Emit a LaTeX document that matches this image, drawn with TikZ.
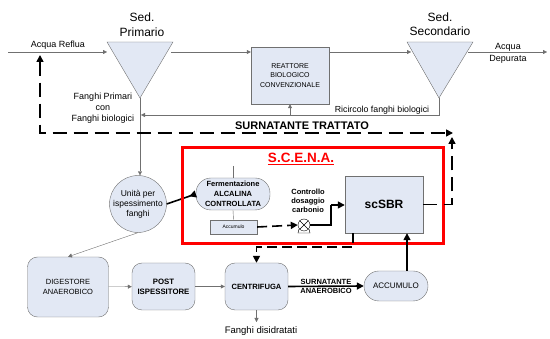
\documentclass[tikz,border=0pt]{standalone}
\usepackage{fontspec}
\setmainfont{Liberation Sans}
\usetikzlibrary{arrows.meta}
\usetikzlibrary{positioning}
\definecolor{boxfill}{RGB}{226,232,244}
\definecolor{ln}{RGB}{112,112,112}
\newcommand{\fs}[2]{\fontsize{#1}{#2}\selectfont}

\begin{document}
\begin{tikzpicture}
[x=1pt,y=-1pt
,bx/.style={draw=ln,fill=boxfill,align=center,inner sep=0pt}
,rbx/.style={bx,rounded corners=10pt}
,stad/.style={bx,rounded corners=15pt}
,fl/.style={draw=ln,arrows={-Triangle[length=4pt,width=4pt]}}
,fat/.style={line width=1.6pt,arrows={-Triangle[length=7pt,width=7pt]}}
,dsh/.style={fat,dash pattern=on 14pt off 7pt}
,dsm/.style={fat,dash pattern=on 10pt off 5pt}
,lbl/.style={align=center,inner sep=0pt}
]
\useasboundingbox (0,0) rectangle (550,339);

% linea acque
\draw[bx] (107,42) -- (173,42) -- (140,98) -- cycle;
\draw[bx] (407,42) -- (473,42) -- (439,98) -- cycle;
\coordinate (ap1) at (140,98);
\coordinate (ap2) at (439,98);
\coordinate (in) at (8,52);
\coordinate (s1in) at (107,52);
\coordinate (s1out) at (171,52);
\coordinate (s2in) at (411,52);
\coordinate (s2out) at (468,52);
\coordinate (eff) at (547,52);
\coordinate (rc) at (439,115);

\node[lbl,font=\fs{12}{15}] (t1) at (142,25) {Sed.\\Primario};
\node[lbl,font=\fs{12}{14.5}] (t2) at (440,24) {Sed.\\Secondario};
\node[lbl,font=\fs{9}{11}] (ar) at (58,45) {Acqua Reflua};
\node[lbl,font=\fs{9}{12}] (ad) at (508,53) {Acqua\\Depurata};
\node[lbl,font=\fs{9}{11.2}] (fp) at (103,108) {Fanghi Primari\\con\\Fanghi biologici};
\node[lbl,font=\fs{8.8}{11}] (ric) at (382,110) {Ricircolo fanghi biologici};

\node[bx,minimum width=78pt,minimum height=57pt,font=\fs{7}{9.5}] (reat) at (290,75.5)
  {REATTORE\\BIOLOGICO\\CONVENZIONALE};

\draw[fl] (in) -- (s1in);
\draw[fl] (s1out) -- (reat.west |- s1out);
\draw[fl] (reat.east |- s1out) -- (s2in);
\draw[fl] (s2out) -- (eff);
\draw[fl] (ap2) -- (rc) -- ([xshift=1pt]ap1 |- rc);
\draw[fl] (reat.south |- rc) -- (reat.south);

% linea fanghi
\node[bx,circle,minimum size=56pt,font=\fs{8.5}{10}] (isp) at (138,204)
  {Unità per\\ispessimento\\fanghi};
\node[rbx,minimum width=81pt,minimum height=60pt,font=\fs{7.5}{10}] (dig) at (68,287)
  {DIGESTORE\\ANAEROBICO};
\node[rbx,minimum width=63pt,minimum height=47pt,font=\bfseries\fs{7.8}{10}] (post) at (163.5,286.5)
  {POST\\ISPESSITORE};
\node[rbx,minimum width=63pt,minimum height=47pt,font=\bfseries\fs{7.6}{10}] (cen) at (256.5,286.5)
  {CENTRIFUGA};
\node[stad,minimum width=64pt,minimum height=30pt,font=\fs{8}{10}] (acc) at (396,286)
  {ACCUMULO};
\node[lbl,font=\fs{9.5}{11}] (fd) at (261,331) {Fanghi disidratati};
\coordinate (fdt) at (256.5,322);

\draw[fl] (ap1) -- (isp.north -| ap1);
\draw[fl] (isp.south) -- (dig.north);
\draw[fl] (dig) -- (post);
\draw[fl] (post) -- (cen);
\draw[fl] (cen) -- (fdt);

% S.C.E.N.A.
\node[stad,minimum width=74pt,minimum height=32pt,font=\bfseries\fs{7.5}{10}] (fer) at (233,194)
  {Fermentazione\\ALCALINA\\CONTROLLATA};
\node[bx,minimum width=47pt,minimum height=14pt,font=\fs{5}{6}] (acm) at (233.5,227) {Accumulo};
\node[bx,minimum width=78pt,minimum height=57pt,font=\bfseries\fs{12}{14}] (sbr) at (384,204.5) {scSBR};
\node[lbl,font=\bfseries\fs{7.5}{9}] (cdc) at (308,201) {Controllo\\dosaggio\\carbonio};
\node[draw,circle,minimum size=12pt,inner sep=0pt] (pump) at (304,225) {};
\draw (pump.north west) -- (pump.south east) (pump.north east) -- (pump.south west);
\draw (299,229) -- (298,233) -- (310,233) -- (309,229);
\coordinate (fertop) at (233,166);
\coordinate (k1) at (331,205);

\draw[ln] (fertop) -- (fer.north);
\draw[ln] (fer.south) -- (acm.north);
\draw[line width=1.6pt,arrows={-Triangle[length=7pt,width=7pt,reversed]}] (isp.east) -- (fer.west);
\draw[dsm] (acm.east) -- (pump.west);
\draw[line width=1.6pt] (pump.east) -| (k1);
\draw[fat] (k1) -- (sbr.west |- k1);

\draw[red,line width=3pt] (182,148) rectangle (443,244);
\node[lbl,text=red,font=\bfseries\fs{13.5}{15}] (scena) at (301,159) {\underline{S.C.E.N.A.}};

% surnatanti
\coordinate (c1) at (40,55);
\coordinate (c2) at (453,133);
\coordinate (c3) at (452,137);
\coordinate (c4) at (256.5,247);
\draw[dsh,{Triangle[length=7pt,width=7pt]}-{Triangle[length=7pt,width=7pt]}] (c1) |- (c2);
\draw[dsh] (sbr.east) -| (c3);
\node[lbl,anchor=base,font=\bfseries\fs{11}{13}] (st) at (302,130) {SURNATANTE TRATTATO};
\draw[dsm] (sbr.south -| 353,0) |- (c4) -- (cen.north);
\draw[fat] (cen.east) -- node[lbl,font=\bfseries\fs{7.5}{9}] {SURNATANTE\\ANAEROBICO} (acc.west);
\draw[fat] (acc.north -| 407,0) -- (sbr.south -| 407,0);
\end{tikzpicture}
\end{document}
